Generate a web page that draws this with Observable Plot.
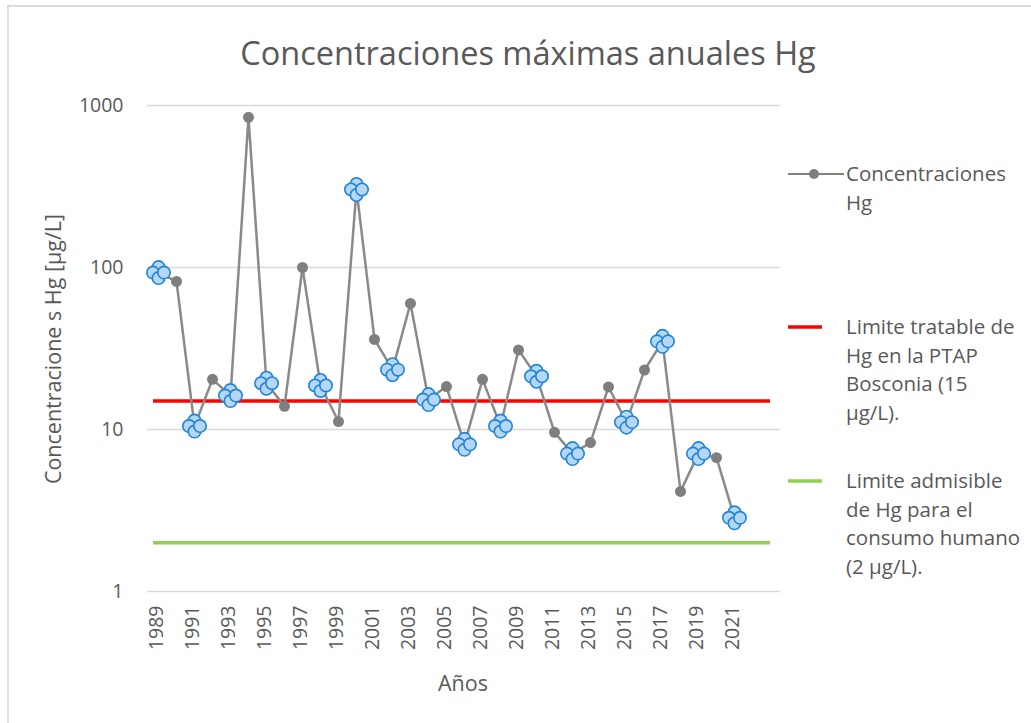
<!DOCTYPE html>
<html>
<head>
<meta charset="utf-8">
<script src="https://cdn.jsdelivr.net/npm/d3@7"></script>
<script src="https://cdn.jsdelivr.net/npm/@observablehq/plot@0.6"></script>
<style>
  html, body { margin: 0; padding: 0; background: #fff; }
  body { width: 1031px; height: 723px; position: relative; overflow: hidden; font-family: "Open Sans", "Noto Sans", sans-serif; color: #595959; }
  #frame { position: absolute; left: 7px; top: 5px; width: 1100px; height: 800px; border-left: 2px solid #dcdcdc; border-top: 2px solid #dcdcdc; }
  #chart { position: absolute; left: 0; top: 0; }
  .title { position: absolute; left: 528px; top: 52px; transform: translate(-50%, -50%); font-size: 32.5px; white-space: nowrap; }
  .ytitle { position: absolute; left: 52px; top: 349px; transform: translate(-50%, -50%) rotate(-90deg); font-size: 21.5px; white-space: nowrap; }
  .xtitle { position: absolute; left: 463px; top: 682px; transform: translate(-50%, -50%); font-size: 21.5px; white-space: nowrap; }
  .leg { position: absolute; left: 788px; font-size: 20.5px; line-height: 28.5px; }
  .leg svg { position: absolute; left: 0; }
  .leg div { position: absolute; left: 58px; width: 200px; white-space: nowrap; }
</style>
</head>
<body>
<div id="frame"></div>
<div id="chart"></div>
<div class="title">Concentraciones máximas anuales Hg</div>
<div class="ytitle">Concentracione s Hg [µg/L]</div>
<div class="xtitle">Años</div>
<div id="legend"></div>
<script>
// Categories (years on the x axis; the last two are empty categories)
const years = d3.range(1989, 2024);
const tickYears = [1989, 1991, 1993, 1995, 1997, 1999, 2001, 2003, 2005, 2007, 2009, 2011, 2013, 2015, 2017, 2019, 2021];
const yTicks = [1, 10, 100, 1000];

// Series: maximum annual Hg concentration (µg/L)
const dataYears = [1989, 1990, 1991, 1992, 1993, 1994, 1995, 1996, 1997, 1998, 1999, 2000, 2001, 2002, 2003, 2004, 2005,
                   2006, 2007, 2008, 2009, 2010, 2011, 2012, 2013, 2014, 2015, 2016, 2017, 2018, 2019, 2020, 2021];
const hgValues = [93, 82, 10.5, 20.4, 16.2, 845, 19.3, 13.9, 100, 18.7, 11.2, 303, 36, 23.4, 60, 15.3, 18.4,
                  8.1, 20.4, 10.5, 31, 21.3, 9.6, 7.1, 8.3, 18.3, 11.1, 23.3, 35, 4.15, 7.1, 6.7, 2.85];
// Years highlighted with the blue markers
const highlighted = [1989, 1991, 1993, 1995, 1998, 2000, 2002, 2004, 2006, 2008, 2010, 2012, 2015, 2017, 2019, 2021];

// Reference limits
const limitTreatable = 15;
const limitHuman = 2;

const data = dataYears.map((y, i) => ({year: y, value: hgValues[i], hi: highlighted.includes(y)}));
const hiData = data.filter(d => d.hi);
const loData = data.filter(d => !d.hi);

const blueStroke = "#1e84d8";
const blueFill = "#b5d6f5";
const off = 5.5, rr = 6.2;
const cluster = [[0, -off], [-off, 0], [0, off], [off, 0]].map(([dx, dy]) =>
  Plot.dot(hiData, {x: "year", y: "value", r: rr, dx, dy, fill: blueFill, stroke: blueStroke, strokeWidth: 1.6}));

const chart = Plot.plot({
  width: 1031,
  height: 723,
  marginLeft: 147,
  marginRight: 251,
  marginTop: 105,
  marginBottom: 132,
  style: {fontFamily: "'Open Sans', 'Noto Sans', sans-serif", fontSize: "19.5px", color: "#595959", background: "transparent"},
  x: {type: "point", domain: years, padding: 0.5},
  y: {type: "log", domain: [1, 1000]},
  marks: [
    Plot.ruleY(yTicks, {stroke: "#d9d9d9", strokeWidth: 1.5}),
    Plot.ruleY([limitTreatable], {stroke: "#ff0000", strokeWidth: 3.5, insetLeft: 6, insetRight: 10}),
    Plot.ruleY([limitHuman], {stroke: "#92d050", strokeWidth: 3.5, insetLeft: 6, insetRight: 10}),
    Plot.line(data, {x: "year", y: "value", stroke: "#8a8a8a", strokeWidth: 2.5}),
    Plot.dot(loData, {x: "year", y: "value", r: 5.5, fill: "#7f7f7f", stroke: "none"}),
    ...cluster,
    Plot.axisX({ticks: tickYears, tickFormat: d => String(d), tickRotate: -90, tickSize: 0, tickPadding: 14, fill: "#595959", label: null, dx: -2}),
    Plot.axisY({ticks: yTicks, tickFormat: d => String(d), tickSize: 0, tickPadding: 24, fill: "#595959", label: null})
  ]
});
document.getElementById("chart").appendChild(chart);

// Legend
const legendItems = [
  {top: 174, lines: ["Concentraciones", "Hg"], color: "#808080", dot: true},
  {top: 327, lines: ["Limite tratable de", "Hg en la PTAP", "Bosconia (15", "µg/L)."], color: "#ff0000", dot: false},
  {top: 481, lines: ["Limite admisible", "de Hg para el", "consumo humano", "(2 µg/L)."], color: "#92d050", dot: false}
];
const legend = document.getElementById("legend");
for (const it of legendItems) {
  const el = document.createElement("div");
  el.className = "leg";
  el.style.top = it.top + "px";
  const sw = `<svg width="56" height="12" style="top:-6px"><line x1="0" x2="${it.dot ? 56 : 34}" y1="6" y2="6" stroke="${it.color}" stroke-width="${it.dot ? 2.2 : 3.5}"/>${it.dot ? `<circle cx="26" cy="6" r="5" fill="#7f7f7f"/>` : ""}</svg>`;
  el.innerHTML = sw + `<div style="top:-15px">${it.lines.join("<br>")}</div>`;
  legend.appendChild(el);
}
</script>
</body>
</html>
